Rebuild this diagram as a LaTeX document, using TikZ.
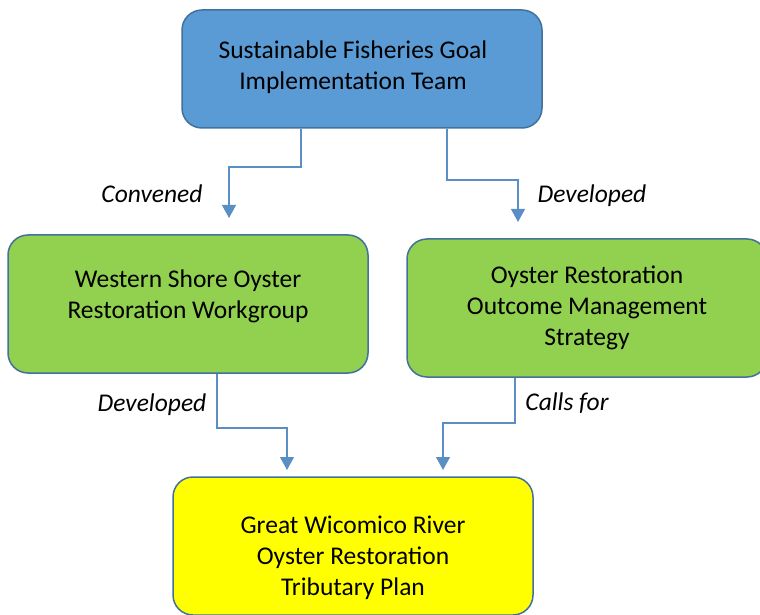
\documentclass[tikz,border=0pt]{standalone}
\usepackage{fontspec}
\setmainfont{Carlito}
\usetikzlibrary{arrows.meta}
\definecolor{topblue}{HTML}{5B9BD5}
\definecolor{edgeblue}{HTML}{41719C}
\definecolor{boxgreen}{HTML}{92D050}
\definecolor{boxyellow}{HTML}{FFFF00}
\definecolor{linkblue}{HTML}{5A8FC6}
\tikzset{
  box/.style={draw=edgeblue, line width=1.5pt, rounded corners=20pt, minimum width=360pt, inner sep=0pt},
  boxtext/.style={align=center, font=\fontsize{25.5}{31}\selectfont, inner sep=0pt},
  conn/.style={draw=linkblue, line width=1.1pt, -{Triangle[width=14pt,length=13pt]}},
  lab/.style={font=\fontsize{25.5}{30}\selectfont\itshape, inner sep=0pt}
}
\begin{document}
\begin{tikzpicture}[x=1pt,y=1pt]
\useasboundingbox (0,0) rectangle (760,614);
% boxes
\node[box, fill=topblue, minimum height=118pt] (top) at (362,545) {};
\node[box, fill=boxgreen, minimum height=138pt] (wsw) at (188,310) {};
\node[box, fill=boxgreen, minimum height=138pt] (oms) at (587,306) {};
\node[box, fill=boxyellow, minimum height=138pt] (plan) at (353,68) {};
% texts
\node[boxtext] (toptxt) at (353,546.5) {Sustainable Fisheries Goal\\Implementation Team};
\node[boxtext] (wswtxt) at (188,318) {Western Shore Oyster\\Restoration Workgroup};
\node[boxtext] (omstxt) at (587,306) {Oyster Restoration\\Outcome Management\\Strategy};
\node[boxtext] (plantxt) at (353,56) {Great Wicomico River\\Oyster Restoration\\Tributary Plan};
% free ends
\coordinate (t1) at (229,396);
\coordinate (t2) at (518,392);
\coordinate (t3) at (287,144);
\coordinate (t4) at (443,144);
% connectors
\draw[conn] (top.south -| 301,0) |- (0,447 -| t1) -- (t1);
\draw[conn] (top.south -| 447,0) |- (0,434 -| t2) -- (t2);
\draw[conn] (wsw.south -| 217,0) |- (0,186 -| t3) -- (t3);
\draw[conn] (oms.south -| 515,0) |- (0,191 -| t4) -- (t4);
% labels
\node[lab] (l1) at (152,420) {Convened};
\node[lab] (l2) at (592,418) {Developed};
\node[lab] (l3) at (152,209) {Developed};
\node[lab] (l4) at (567,211) {Calls for};
\end{tikzpicture}
\end{document}
